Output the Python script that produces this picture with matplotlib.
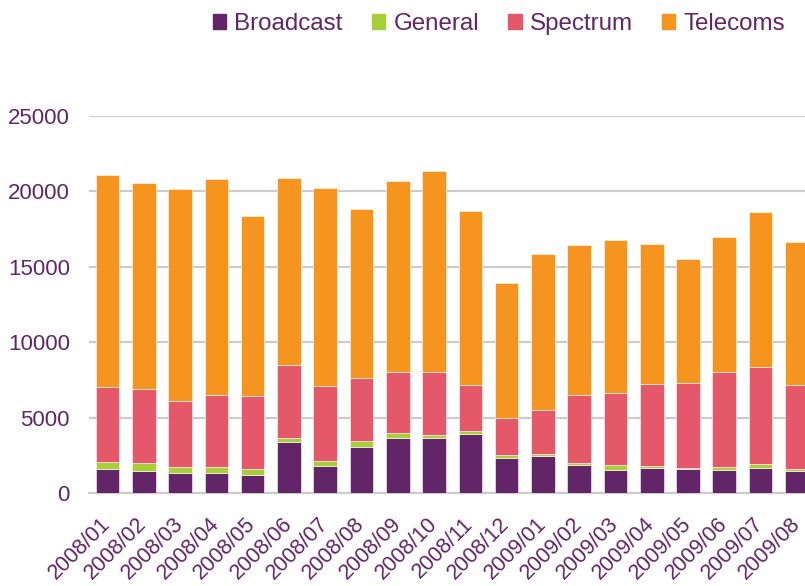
import matplotlib
matplotlib.use("Agg")
import matplotlib.pyplot as plt
from matplotlib.patches import Patch
import numpy as np

months = ["2008/01", "2008/02", "2008/03", "2008/04", "2008/05", "2008/06", "2008/07",
          "2008/08", "2008/09", "2008/10", "2008/11", "2008/12", "2009/01", "2009/02",
          "2009/03", "2009/04", "2009/05", "2009/06", "2009/07", "2009/08"]
broadcast = [1570, 1440, 1350, 1350, 1220, 3360, 1770, 3030, 3650, 3650,
             3890, 2300, 2430, 1860, 1500, 1640, 1570, 1500, 1640, 1440]
general = [510, 570, 380, 380, 370, 310, 380, 420, 310, 220,
           220, 240, 180, 150, 380, 180, 110, 250, 310, 180]
spectrum = [4950, 4870, 4380, 4780, 4870, 4800, 4950, 4160, 4050, 4160,
            3050, 2410, 2900, 4490, 4730, 5420, 5620, 6280, 6390, 5550]
telecoms = [14070, 13670, 14030, 14340, 11940, 12450, 13160, 11240, 12700, 13340,
            11550, 8960, 10310, 9980, 10150, 9250, 8250, 8960, 10290, 9450]

series = [("Broadcast", broadcast, "#622567"),
          ("General", general, "#a8cf3a"),
          ("Spectrum", spectrum, "#e4586a"),
          ("Telecoms", telecoms, "#f5951f")]
txt = "#622567"

plt.rcParams['font.family'] = ['Liberation Sans', 'DejaVu Sans']

fig = plt.figure(figsize=(8.05, 5.86), dpi=100)
ax = fig.add_axes([0.111, 0.1587, 0.9014, 0.6433])

x = np.arange(len(months))
bottom = np.zeros(len(months))
for name, vals, col in series:
    ax.bar(x, vals, 0.65, bottom=bottom, color=col, edgecolor="#ffffff",
           linewidth=0.4, zorder=3)
    bottom += np.array(vals)

ax.set_xlim(-0.5, len(months) - 0.5)
ax.set_ylim(0, 25000)
ax.set_yticks(range(0, 25001, 5000))
ax.yaxis.grid(True, color="#cccccc", linewidth=1.6, zorder=0)
for s in ["top", "right", "left"]:
    ax.spines[s].set_visible(False)
ax.spines["bottom"].set_color("#cccccc")
ax.spines["bottom"].set_linewidth(1.6)
ax.tick_params(axis="y", length=0, pad=14, labelsize=16, labelcolor=txt)
ax.tick_params(axis="x", length=0, pad=20, labelsize=15.5, labelcolor=txt)
ax.set_xticks(x)
ax.set_xticklabels(months, rotation=45, ha="right", va="center", rotation_mode="anchor")

handles = [Patch(color=c, label=n) for n, v, c in series]
fig.legend(handles=handles, loc="upper center", bbox_to_anchor=(0.62, 1.015), ncol=4,
           frameon=False, fontsize=17.4, labelcolor=txt, handlelength=0.55,
           handleheight=0.55, handletextpad=0.35, columnspacing=1.2)

fig.savefig("out.png", dpi=100)
